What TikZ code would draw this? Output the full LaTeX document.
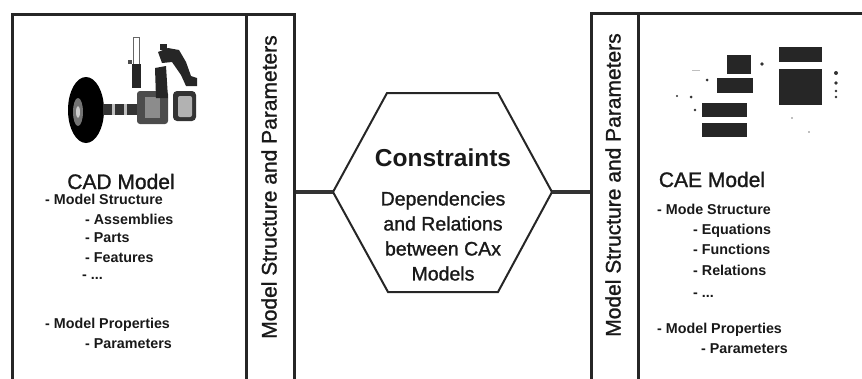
\documentclass[tikz,border=0pt]{standalone}
\usepackage{fontspec}
\setmainfont{Liberation Sans}
\newfontfamily\medfont[FakeBold=1.2]{Liberation Sans}
\begin{document}
\begin{tikzpicture}[x=1pt,y=-1pt,
  frame/.style={draw=black!85,line width=2.6pt},
  hexline/.style={draw=black!85,line width=2pt,line join=miter},
  conn/.style={draw=black!80,line width=4pt},
  striptext/.style={rotate=90,font=\medfont\fontsize{21}{24}\selectfont,text=black!90},
  heading/.style={anchor=base,inner sep=0pt,font=\medfont\fontsize{21}{24}\selectfont,text=black!90},
  item/.style={anchor=base west,inner sep=0pt,font=\bfseries\fontsize{14.3}{16}\selectfont,text=black!90},
  blk/.style={fill=black!85,draw=none},
  dot/.style={fill=black!80,draw=none}]
\useasboundingbox (0,0) rectangle (862,378);
\clip (0,0) rectangle (862,378);
% ---- left box ----
\node[frame,minimum width=234pt,minimum height=370pt,anchor=north west,inner sep=0pt] (cadbox) at (11,13) {};
\node[frame,minimum width=48pt,minimum height=370pt,anchor=north west,inner sep=0pt] (cadstrip) at (245,13) {};
\node[striptext] (cadstriptext) at (269,187) {Model Structure and Parameters};
% ---- right box ----
\node[frame,minimum width=47pt,minimum height=370pt,anchor=north west,inner sep=0pt] (caestrip) at (590,12) {};
\node[frame,minimum width=300pt,minimum height=370pt,anchor=north west,inner sep=0pt] (caebox) at (637,12) {};
\node[striptext] (caestriptext) at (613,185) {Model Structure and Parameters};
% ---- hexagon ----
\coordinate (hA) at (387,93);
\coordinate (hB) at (498,93);
\coordinate (hR) at (552,192);
\coordinate (hC) at (498,292);
\coordinate (hD) at (388,292);
\coordinate (hL) at (333,192);
\draw[hexline,fill=white] (hA) -- (hB) -- (hR) -- (hC) -- (hD) -- (hL) -- cycle;
\node[font=\bfseries\fontsize{24.5}{28}\selectfont,text=black!90] (cons) at (443,158) {Constraints};
\node[align=center,font=\medfont\fontsize{19.5}{25}\selectfont,text=black!90] (consdesc) at (443,236)
  {Dependencies\\and Relations\\between CAx\\Models};
% ---- connectors ----
\draw[conn] (cadstrip.east |- hL) -- (hL);
\draw[conn] (hR) -- (caestrip.west |- hR);
% ---- CAD picture ----
\begin{scope}
\fill[black] (86,110) ellipse [x radius=18, y radius=33];
\fill[black!55] (78,112) ellipse [x radius=5, y radius=14];
\fill[black!20] (78,112) ellipse [x radius=2, y radius=6];
\fill[black!80] (103,104) rectangle (140,115);
\fill[black!25] (112,104) rectangle (115,115);
\fill[black!25] (124,104) rectangle (127,115);
\fill[black!70,rounded corners=3pt] (137,91) rectangle (168,124);
\fill[black!45] (145,97) rectangle (160,118);
\fill[black!80,rounded corners=4pt] (173,91) rectangle (196,121);
\fill[black!30,rounded corners=2pt] (178,96) rectangle (192,117);
\draw[black!60,line width=0.8pt] (133,37) rectangle (139,66);
\fill[black!85] (132,64) rectangle (141,88);
\fill[black!70] (128,60) rectangle (132,64);
\fill[black!85] (155,68) -- (166,66) -- (168,98) -- (156,98) -- cycle;
\fill[black!85] (158,52) -- (168,48) -- (179,50) -- (186,62) -- (191,76) -- (197,78) -- (197,86) -- (186,86) -- (181,75) -- (172,62) -- (162,63) -- cycle;
\fill[black!85] (160,44) rectangle (167,50);
\end{scope}
% ---- CAE picture ----
\begin{scope}
\fill[blk] (727,55) rectangle (751,74);
\fill[blk] (717,78) rectangle (753,93);
\fill[blk] (702,103) rectangle (747,117);
\fill[blk] (702,123) rectangle (747,137);
\fill[blk] (779,47) rectangle (822,62);
\fill[blk] (779,69) rectangle (822,105);
\fill[dot] (762,64) circle (1.8);
\fill[dot] (707,80) circle (1.5);
\fill[dot] (677,96) circle (1.2);
\fill[dot] (691,97) circle (1.5);
\fill[dot] (695,110) circle (1.3);
\fill[dot] (836,73) circle (2);
\fill[dot] (836,83) circle (1.8);
\fill[dot] (836,91) circle (1.4);
\fill[dot] (836,97) circle (1.4);
\fill[black!50] (792,118) circle (0.9);
\fill[black!50] (809,132) circle (0.9);
\draw[black!25,line width=0.5pt] (692,70) -- (700,70);
\end{scope}
% ---- CAD text ----
\node[heading] (cadhead) at (121,189) {CAD Model};
\node[item] (c1) at (45,204) {- Model Structure};
\node[item] (c2) at (85,224) {- Assemblies};
\node[item] (c3) at (85,242) {- Parts};
\node[item] (c4) at (85,262) {- Features};
\node[item] (c5) at (82,279) {- ...};
\node[item] (c6) at (45,328) {- Model Properties};
\node[item] (c7) at (85,348) {- Parameters};
% ---- CAE text ----
\node[heading] (caehead) at (712,187) {CAE Model};
\node[item] (e1) at (657,214) {- Mode Structure};
\node[item] (e2) at (693,234) {- Equations};
\node[item] (e3) at (693,254) {- Functions};
\node[item] (e4) at (693,275) {- Relations};
\node[item] (e5) at (693,297) {- ...};
\node[item] (e6) at (657,333) {- Model Properties};
\node[item] (e7) at (701,353) {- Parameters};
\end{tikzpicture}
\end{document}
